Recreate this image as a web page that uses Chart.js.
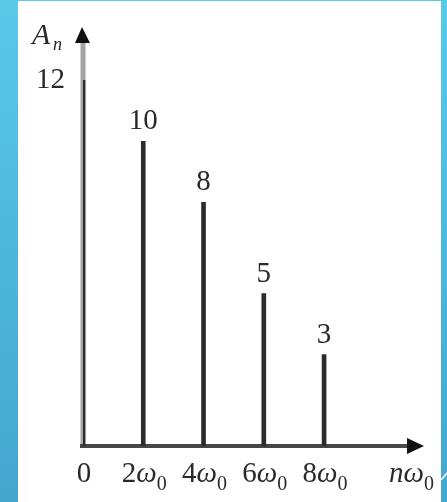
<!DOCTYPE html>
<html>
<head>
<meta charset="utf-8">
<script src="https://cdn.jsdelivr.net/npm/chart.js@4.4.1/dist/chart.umd.min.js"></script>
<style>
  html, body { margin: 0; padding: 0; width: 447px; height: 502px; overflow: hidden; background: #fff; }
  #frame { position: relative; width: 447px; height: 502px;
           background: linear-gradient(180deg, #5ACAE9 0%, #4FB8DD 45%, #45A6CE 100%); }
  #sheet { position: absolute; left: 18px; top: 1px; width: 423px; height: 501px; background: #fff; }
  #c { position: absolute; left: 0; top: 0; }
</style>
</head>
<body>
<div id="frame">
  <div id="sheet"></div>
  <canvas id="c" width="447" height="502"></canvas>
</div>
<script>
// Amplitude spectrum: line heights A_n at multiples of the fundamental ω0
const harmonics   = [0, 2, 4, 6, 8];
const amplitudes  = [12, 10, 8, 5, 3];
const xTickLabels = ['0', '2ω_0', '4ω_0', '6ω_0', '8ω_0'];
const yTickValues = [12];
const xAxisTitle  = 'nω_0';
const yAxisTitle  = 'A_n';

const X_MAX = 11.25;     // end of the frequency axis (arrow tip)
const Y_MAX = 13.75;     // end of the amplitude axis (arrow tip)
const TITLE_X = 10.9;    // where the nω0 caption sits on the axis

const SERIF = '"Liberation Serif", "Times New Roman", serif';
const MAIN_PX = 29, SUB_PX = 20;
const INK = '#2a2a2a';

// Draws "text_sub" with letters in italics and the part after "_" lowered
function richParts(label) {
  const [main, sub] = label.split('_');
  const parts = [];
  for (const ch of main) {
    const italic = /[^\d]/.test(ch);
    parts.push({ t: ch, font: (italic ? 'italic ' : '') + MAIN_PX + 'px ' + SERIF, dy: 0 });
  }
  if (sub) parts.push({ t: sub, font: (/[^\d]/.test(sub) ? 'italic ' : '') + SUB_PX + 'px ' + SERIF, dy: 8 });
  return parts;
}
function drawRich(ctx, label, x, baseline, align) {
  const parts = richParts(label);
  let w = 0;
  parts.forEach(p => { ctx.font = p.font; p.w = ctx.measureText(p.t).width; w += p.w; });
  let cx = align === 'left' ? x : x - w / 2;
  ctx.textAlign = 'left';
  ctx.textBaseline = 'alphabetic';
  parts.forEach(p => { ctx.font = p.font; ctx.fillText(p.t, cx, baseline + p.dy); cx += p.w; });
}

// Axis lines with arrowheads, drawn underneath the spectral lines
const axesPlugin = {
  id: 'arrowAxes',
  beforeDatasetsDraw(chart) {
    const { ctx, scales: { x, y } } = chart;
    const x0 = x.getPixelForValue(0), y0 = y.getPixelForValue(0);
    const xEnd = x.getPixelForValue(X_MAX), yEnd = y.getPixelForValue(Y_MAX);
    ctx.save();
    // vertical axis
    ctx.strokeStyle = '#a4a4a4';
    ctx.lineWidth = 5;
    ctx.beginPath(); ctx.moveTo(x0, y0 + 2); ctx.lineTo(x0, yEnd + 12); ctx.stroke();
    ctx.fillStyle = '#111';
    ctx.beginPath();
    ctx.moveTo(x0 - 1, yEnd); ctx.lineTo(x0 + 7, yEnd + 16); ctx.lineTo(x0 - 8, yEnd + 16);
    ctx.closePath(); ctx.fill();
    // horizontal axis
    ctx.strokeStyle = '#474747';
    ctx.lineWidth = 4;
    ctx.beginPath(); ctx.moveTo(x0 - 3, y0); ctx.lineTo(xEnd - 10, y0); ctx.stroke();
    ctx.fillStyle = '#111';
    ctx.beginPath();
    ctx.moveTo(xEnd + 2, y0); ctx.lineTo(xEnd - 15, y0 - 8); ctx.lineTo(xEnd - 15, y0 + 8);
    ctx.closePath(); ctx.fill();
    ctx.restore();
  }
};

// Value labels above the lines, frequency labels and axis captions
const labelsPlugin = {
  id: 'spectrumLabels',
  afterDraw(chart) {
    const { ctx, scales: { x, y } } = chart;
    const y0 = y.getPixelForValue(0);
    ctx.save();
    ctx.fillStyle = INK;
    ctx.font = MAIN_PX + 'px ' + SERIF;
    ctx.textAlign = 'center';
    ctx.textBaseline = 'alphabetic';
    harmonics.forEach((n, i) => {
      if (n === 0) return; // the n = 0 line
      ctx.fillText(String(amplitudes[i]), x.getPixelForValue(n), y.getPixelForValue(amplitudes[i]) - 12);
    });
    harmonics.forEach((n, i) => drawRich(ctx, xTickLabels[i], x.getPixelForValue(n) + 1, y0 + 36, 'center'));
    drawRich(ctx, xAxisTitle, x.getPixelForValue(TITLE_X), y0 + 36, 'center');
    // amplitude caption to the left of the arrow
    ctx.font = 'italic 30px ' + SERIF;
    ctx.textAlign = 'left';
    ctx.fillText('A', 32, 44);
    ctx.font = 'italic 18px ' + SERIF;
    ctx.fillText('n', 53, 50);
    // small corner stroke of the slide frame
    ctx.strokeStyle = '#ffffff';
    ctx.lineWidth = 1.5;
    ctx.beginPath(); ctx.moveTo(441, 480); ctx.lineTo(448, 472); ctx.stroke();
    ctx.restore();
  }
};

new Chart(document.getElementById('c'), {
  type: 'bar',
  data: {
    datasets: [{
      data: harmonics.map((n, i) => ({ x: n, y: amplitudes[i] })),
      backgroundColor: '#2c2c2c',
      borderWidth: 0,
      barThickness: 4
    }]
  },
  options: {
    responsive: false,
    animation: false,
    devicePixelRatio: 1,
    layout: { padding: { left: 0, top: 27, right: 25, bottom: 56 } },
    plugins: { legend: { display: false }, tooltip: { enabled: false } },
    scales: {
      x: { type: 'linear', min: 0, max: X_MAX, offset: false, display: false },
      y: {
        type: 'linear', min: 0, max: Y_MAX,
        grid: { display: false, drawTicks: false },
        border: { display: false },
        afterBuildTicks: s => { s.ticks = yTickValues.map(v => ({ value: v })); },
        afterFit: s => { s.width = 83; s.paddingTop = 0; s.paddingBottom = 0; },
        ticks: {
          padding: 18,
          color: INK,
          font: { family: SERIF, size: MAIN_PX },
          callback: v => String(v)
        }
      }
    }
  },
  plugins: [axesPlugin, labelsPlugin]
});
</script>
</body>
</html>
